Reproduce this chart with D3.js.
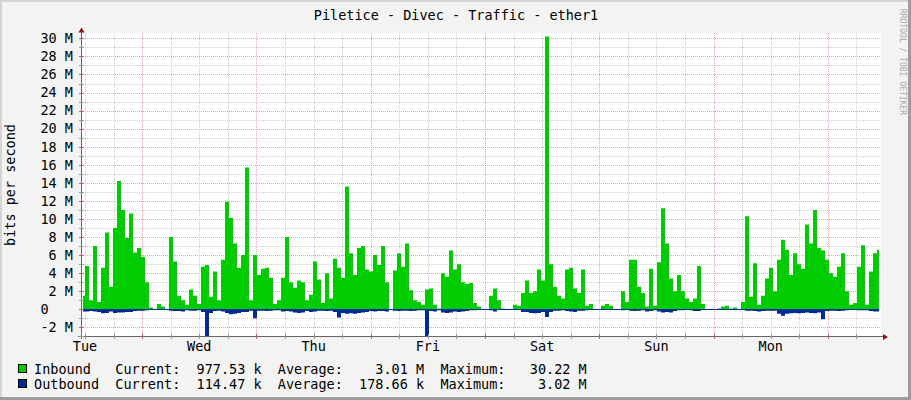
<!DOCTYPE html>
<html lang="en">
<head>
  <meta charset="utf-8">
  <title>Piletice - Divec - Traffic - ether1</title>
  <script src="https://cdn.jsdelivr.net/npm/d3@7"></script>
  <style>
    body { margin: 0; background: #f3f3f3; }
    text { font-family: "DejaVu Sans Mono", monospace; }
  </style>
</head>
<body>
<script>
  // one sample = 3024 s (one week over the plot), values in Mbit/s
  var startTime = Date.UTC(2019, 0, 1) - 3024 * 1000;   // Mon 23:09, so Tue 00:00 is the first day line
  var stepSec = 3024;
  var nSteps = 200;

  var inbound = [
    1.5, 4.8, 1.0, 7.0, 0.8, 4.6, 8.5, 2.5, 9.0, 14.2,
    11.0, 7.9, 10.6, 6.3, 6.8, 5.8, 3.0, 0.2, 0, 0.6,
    0.3, 0, 8.0, 5.3, 1.5, 1.0, 0.5, 2.2, 1.5, 0.6,
    4.7, 4.9, 1.4, 4.2, 1.0, 5.5, 11.9, 10.1, 7.3, 4.6,
    6.0, 15.7, 1.0, 6.0, 3.8, 4.5, 4.6, 3.5, 0.6, 1.0,
    3.5, 8.0, 3.0, 2.4, 3.2, 3.0, 1.0, 1.6, 5.3, 3.3,
    0.7, 4.0, 1.2, 5.6, 4.6, 3.5, 13.6, 6.2, 3.8, 6.8,
    7.0, 4.4, 4.2, 6.0, 4.9, 7.0, 3.0, 0, 4.3, 6.2,
    4.7, 7.3, 2.1, 1.0, 0.8, 0.5, 2.2, 2.3, 0.5, 0.1,
    4.0, 3.6, 6.5, 4.4, 5.0, 3.0, 2.8, 2.9, 0.7, 0.3,
    0, 0, 1.5, 2.3, 1.0, 0.1, 0, 0, 0.5, 0.4,
    1.8, 3.2, 1.8, 2.0, 4.4, 3.2, 30.2, 5.0, 2.5, 1.5,
    1.2, 4.4, 4.6, 2.3, 1.8, 4.4, 0.4, 0.6, 0, 0,
    0.4, 0.6, 0.4, 0, 0, 2.0, 0.8, 5.5, 5.5, 2.5,
    1.8, 0.3, 4.5, 0.4, 5.2, 11.2, 7.3, 3.4, 2.0, 3.8,
    2.0, 1.2, 0.8, 1.2, 4.8, 0.6, 0, 0, 0, 0.1,
    0.3, 0.4, 0.1, 0.2, 0, 0.8, 10.3, 1.4, 5.1, 0.5,
    1.5, 3.4, 4.6, 2.0, 5.5, 7.7, 6.6, 3.8, 6.2, 5.0,
    4.5, 9.4, 7.3, 11.0, 6.8, 6.5, 5.5, 4.0, 3.6, 4.7,
    6.2, 2.0, 0.5, 0.7, 4.7, 7.1, 0.5, 4.2, 6.2, 6.6
  ];

  // drawn below zero
  var outbound = [
    -0.25, -0.25, -0.2, -0.25, -0.3, -0.45, -0.4, -0.25, -0.4, -0.35,
    -0.35, -0.3, -0.3, -0.2, -0.15, -0.15, -0.1, 0, 0, 0,
    0, 0, -0.15, -0.2, -0.2, -0.25, -0.1, -0.15, -0.15, -0.1,
    -0.3, -3.0, -0.4, -0.2, -0.15, -0.25, -0.4, -0.55, -0.5, -0.4,
    -0.3, -0.3, -0.15, -1.0, -0.15, -0.15, -0.2, -0.15, -0.1, -0.1,
    -0.25, -0.2, -0.25, -0.35, -0.4, -0.35, -0.2, -0.3, -0.25, -0.15,
    -0.15, -0.2, -0.15, -0.3, -0.9, -0.4, -0.5, -0.45, -0.5, -0.4,
    -0.35, -0.3, -0.2, -0.25, -0.2, -0.2, -0.25, 0, -0.15, -0.2,
    -0.15, -0.15, -0.2, -0.15, -0.1, -0.1, -3.0, -0.2, -0.25, -0.1,
    -0.35, -0.4, -0.35, -0.25, -0.3, -0.25, -0.2, -0.1, -0.1, -0.05,
    0, 0, -0.1, -0.25, -0.05, -0.05, 0, 0, 0, -0.05,
    -0.3, -0.3, -0.4, -0.45, -0.4, -0.3, -0.85, -0.3, -0.15, -0.15,
    -0.1, -0.2, -0.25, -0.3, -0.15, -0.15, -0.1, -0.05, 0, 0,
    0, -0.05, 0, 0, 0, -0.1, -0.05, -0.15, -0.2, -0.15,
    -0.1, -0.25, -0.2, -0.1, -0.25, -0.35, -0.3, -0.35, -0.2, -0.1,
    -0.1, -0.05, -0.1, -0.2, -0.2, -0.05, 0, 0, 0, 0,
    0, 0, 0, 0, 0, -0.05, -0.15, -0.15, -0.2, -0.25,
    -0.2, -0.15, -0.15, -0.15, -0.5, -0.7, -0.5, -0.45, -0.4, -0.45,
    -0.4, -0.35, -0.4, -0.45, -0.35, -1.1, -0.2, -0.15, -0.15, -0.2,
    -0.15, -0.1, -0.05, -0.05, -0.1, -0.1, -0.1, -0.2, -0.25, -0.25
  ];

  var yTicks = [-2, 0, 2, 4, 6, 8, 10, 12, 14, 16, 18, 20, 22, 24, 26, 28, 30];
  var dayLabels = ["Tue", "Wed", "Thu", "Fri", "Sat", "Sun", "Mon"];
  var legendRows = [
    { name: "Inbound",  color: "#00cc00", cur: "977.53 k", avg: "3.01 M",   max: "30.22 M" },
    { name: "Outbound", color: "#002a97", cur: "114.47 k", avg: "178.66 k", max: "3.02 M" }
  ];

  var w = 911, h = 400;
  var plotL = 81, plotR = 881, plotT = 33.4, plotB = 336.4;
  var fs = "13.5px";

  var x = d3.scaleUtc()
    .domain([startTime, startTime + nSteps * stepSec * 1000])
    .range([plotL, plotR]);
  var y = d3.scaleLinear()
    .domain([-3, 30.55])
    .range([plotB, plotT]);

  var svg = d3.select("body").append("svg")
    .attr("width", w)
    .attr("height", h);

  // frame
  svg.append("rect").attr("width", w).attr("height", h).attr("fill", "#f3f3f3");
  svg.append("rect").attr("x", 0).attr("y", 0).attr("width", w).attr("height", 2).attr("fill", "#d4d4d4");
  svg.append("rect").attr("x", 0).attr("y", 0).attr("width", 2).attr("height", h).attr("fill", "#d4d4d4");
  svg.append("rect").attr("x", w - 3).attr("y", 0).attr("width", 3).attr("height", h).attr("fill", "#9c9c9c");
  svg.append("rect").attr("x", 0).attr("y", h - 3).attr("width", w).attr("height", 3).attr("fill", "#9c9c9c");

  svg.append("rect")
    .attr("x", plotL).attr("y", plotT)
    .attr("width", plotR - plotL).attr("height", plotB - plotT)
    .attr("fill", "#ffffff");

  var grid = svg.append("g").attr("shape-rendering", "crispEdges");

  // horizontal grid: 1M grey, 2M red
  d3.range(-3, 31).forEach(function(v) {
    var yy = Math.round(y(v)) + 0.5;
    grid.append("line")
      .attr("x1", plotL).attr("x2", plotR)
      .attr("y1", yy).attr("y2", yy)
      .attr("stroke", v % 2 === 0 ? "#f2a0a0" : "#cfcfcf")
      .attr("stroke-dasharray", "1,1");
  });

  // vertical grid: every 6 hours, noon in red
  x.ticks(d3.utcHour.every(6)).forEach(function(t) {
    var xx = Math.round(x(t)) + 0.5;
    grid.append("line")
      .attr("x1", xx).attr("x2", xx)
      .attr("y1", plotT).attr("y2", plotB)
      .attr("stroke", t.getUTCHours() === 12 ? "#f2a0a0" : "#cfcfcf")
      .attr("stroke-dasharray", "1,1");
  });

  // data, drawn as steps like rrdtool does
  var tOf = function(i) { return startTime + (i + 0.5) * stepSec * 1000; };

  var area = d3.area()
    .curve(d3.curveStep)
    .x(function(d, i) { return x(tOf(i)); })
    .y0(y(0))
    .y1(function(d) { return y(d); });

  svg.append("path")
    .datum(inbound)
    .attr("d", area)
    .attr("fill", "#00cc00");

  svg.append("path")
    .datum(outbound)
    .attr("d", area)
    .attr("fill", "#002a97");

  svg.append("line")
    .attr("x1", x(tOf(0))).attr("x2", x(tOf(nSteps - 1)))
    .attr("y1", Math.round(y(0)) + 0.5).attr("y2", Math.round(y(0)) + 0.5)
    .attr("stroke", "#002a97")
    .attr("shape-rendering", "crispEdges");

  // axes
  var axisColor = "#666666";
  var arrowColor = "#8b1010";
  var ax = svg.append("g").attr("shape-rendering", "crispEdges");
  ax.append("line")
    .attr("x1", plotL + 0.5).attr("x2", plotL + 0.5)
    .attr("y1", plotB + 3).attr("y2", plotT - 2)
    .attr("stroke", axisColor);
  ax.append("line")
    .attr("x1", plotL - 3).attr("x2", plotR + 3)
    .attr("y1", plotB + 0.5).attr("y2", plotB + 0.5)
    .attr("stroke", axisColor);

  d3.range(-3, 31).forEach(function(v) {
    var yy = Math.round(y(v)) + 0.5;
    ax.append("line")
      .attr("x1", plotL - 2).attr("x2", plotL + 3)
      .attr("y1", yy).attr("y2", yy)
      .attr("stroke", v % 2 === 0 ? "#c06060" : "#999999");
  });
  x.ticks(d3.utcHour.every(6)).forEach(function(t) {
    var xx = Math.round(x(t)) + 0.5;
    ax.append("line")
      .attr("x1", xx).attr("x2", xx)
      .attr("y1", plotB - 2).attr("y2", plotB + 3)
      .attr("stroke", t.getUTCHours() === 12 ? "#c06060" : "#999999");
  });

  svg.append("path")
    .attr("d", "M" + (plotL - 2.5) + "," + (plotT - 1) + "L" + (plotL + 0.5) + "," + (plotT - 6) + "L" + (plotL + 3.5) + "," + (plotT - 1) + "Z")
    .attr("fill", arrowColor);
  svg.append("path")
    .attr("d", "M" + (plotR + 2) + "," + (plotB - 2.5) + "L" + (plotR + 7) + "," + (plotB + 0.5) + "L" + (plotR + 2) + "," + (plotB + 3.5) + "Z")
    .attr("fill", arrowColor);

  // y labels
  svg.selectAll(".ylab")
    .data(yTicks)
    .enter()
    .append("text")
    .attr("class", "ylab")
    .attr("x", 73)
    .attr("y", function(d) { return y(d) + 4.8; })
    .attr("text-anchor", "end")
    .attr("font-size", fs)
    .attr("fill", "#000")
    .style("white-space", "pre")
    .text(function(d) { return d === 0 ? "0   " : d + " M"; });

  // day labels at midnight
  svg.selectAll(".xlab")
    .data(dayLabels)
    .enter()
    .append("text")
    .attr("class", "xlab")
    .attr("x", function(d, i) { return x(Date.UTC(2019, 0, 1 + i)); })
    .attr("y", 351)
    .attr("text-anchor", "middle")
    .attr("font-size", fs)
    .attr("fill", "#000")
    .text(function(d) { return d; });

  svg.append("text")
    .attr("transform", "translate(15,185) rotate(-90)")
    .attr("text-anchor", "middle")
    .attr("font-size", fs)
    .attr("fill", "#000")
    .text("bits per second");

  svg.append("text")
    .attr("x", 456)
    .attr("y", 19.5)
    .attr("text-anchor", "middle")
    .attr("font-size", fs)
    .attr("fill", "#000")
    .text("Piletice - Divec - Traffic - ether1");

  svg.append("text")
    .attr("transform", "translate(900,9) rotate(90)")
    .attr("font-size", "8px")
    .attr("fill", "#a8a8a8")
    .text("RRDTOOL / TOBI OETIKER");

  // legend
  var pad = function(s, n) { while (s.length < n) s = " " + s; return s; };
  var pad2 = function(s, n) { while (s.length < n) s = s + " "; return s; };
  legendRows.forEach(function(r, i) {
    var by = 373.5 + i * 15;
    svg.append("rect")
      .attr("x", 18.5).attr("y", by - 9.5)
      .attr("width", 8).attr("height", 8)
      .attr("fill", r.color)
      .attr("stroke", "#000")
      .attr("shape-rendering", "crispEdges");
    svg.append("text")
      .attr("x", 34)
      .attr("y", by)
      .attr("font-size", fs)
      .attr("fill", "#000")
      .style("white-space", "pre")
      .text(pad2(r.name, 10) + "Current:  " + r.cur + "  Average:  " + pad(r.avg, 8) +
            "  Maximum:  " + pad(r.max, 8));
  });
</script>
</body>
</html>
